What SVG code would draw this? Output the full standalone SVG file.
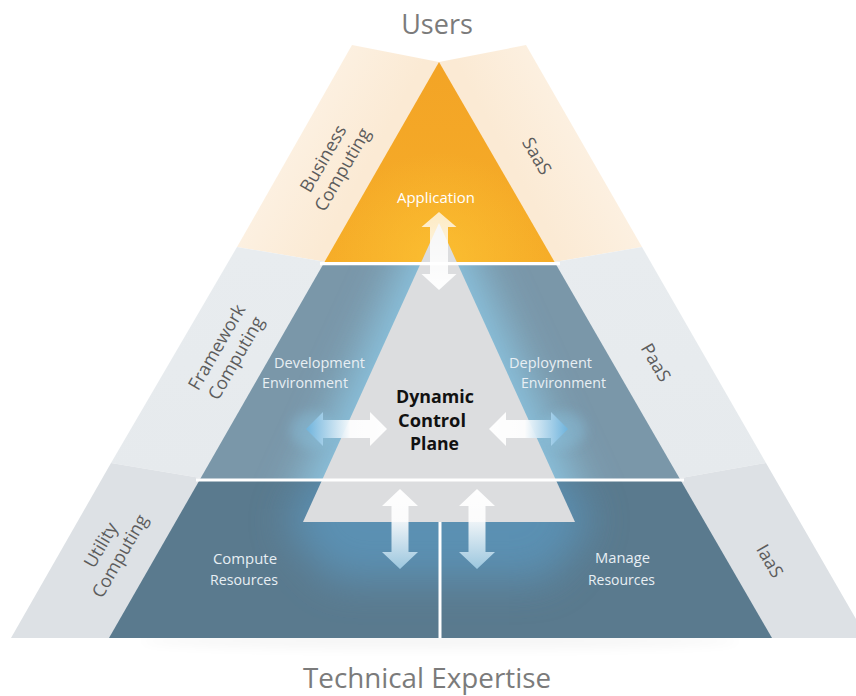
<svg xmlns="http://www.w3.org/2000/svg" width="856" height="696" viewBox="0 0 856 696">
<style>
.sans{font-family:"Open Sans","Noto Sans","Liberation Sans",sans-serif}
.title{font-size:27px;fill:#7b7b7b}
.side{font-size:18px;fill:#5c5c5c}
.inner{font-size:14.5px;fill:#e8eff4}
.bold{font-size:18px;font-weight:bold;fill:#111}
.sep{stroke:#ffffff;fill:none}
</style>
<defs>
<linearGradient id="gOrange" x1="0" y1="62" x2="0" y2="264" gradientUnits="userSpaceOnUse">
<stop offset="0" stop-color="#f3a426"/>
<stop offset="1" stop-color="#f6ad28"/>
</linearGradient>
<radialGradient id="gOrangeHi" cx="439" cy="262" r="110" gradientUnits="userSpaceOnUse">
<stop offset="0" stop-color="#fcc233" stop-opacity="0.8"/>
<stop offset="1" stop-color="#fcc233" stop-opacity="0"/>
</radialGradient>
<linearGradient id="gBeigeL" x1="250" y1="120" x2="360" y2="180" gradientUnits="userSpaceOnUse">
<stop offset="0" stop-color="#fdf4e9"/>
<stop offset="1" stop-color="#fbead4"/>
</linearGradient>
<linearGradient id="gBeigeR" x1="630" y1="120" x2="520" y2="180" gradientUnits="userSpaceOnUse">
<stop offset="0" stop-color="#fdf4e9"/>
<stop offset="1" stop-color="#fbead4"/>
</linearGradient>
<linearGradient id="gGrayMid" x1="0" y1="250" x2="0" y2="478" gradientUnits="userSpaceOnUse">
<stop offset="0" stop-color="#e8ecef"/>
<stop offset="1" stop-color="#e6eaed"/>
</linearGradient>
<linearGradient id="gArrowTop" x1="0" y1="212" x2="0" y2="290" gradientUnits="userSpaceOnUse">
<stop offset="0" stop-color="#ffffff" stop-opacity="0.72"/>
<stop offset="0.6" stop-color="#ffffff" stop-opacity="0.85"/>
<stop offset="1" stop-color="#ffffff" stop-opacity="0.97"/>
</linearGradient>
<linearGradient id="gArrowL" x1="306" y1="0" x2="387" y2="0" gradientUnits="userSpaceOnUse">
<stop offset="0" stop-color="#6db3dd" stop-opacity="0.95"/>
<stop offset="0.55" stop-color="#ffffff" stop-opacity="0.92"/>
<stop offset="1" stop-color="#ffffff" stop-opacity="0.97"/>
</linearGradient>
<linearGradient id="gArrowR" x1="489" y1="0" x2="568" y2="0" gradientUnits="userSpaceOnUse">
<stop offset="0" stop-color="#ffffff" stop-opacity="0.97"/>
<stop offset="0.45" stop-color="#ffffff" stop-opacity="0.92"/>
<stop offset="1" stop-color="#6db3dd" stop-opacity="0.95"/>
</linearGradient>
<linearGradient id="gArrowB" x1="0" y1="489" x2="0" y2="569" gradientUnits="userSpaceOnUse">
<stop offset="0" stop-color="#ffffff" stop-opacity="0.97"/>
<stop offset="0.4" stop-color="#ffffff" stop-opacity="0.9"/>
<stop offset="1" stop-color="#a3cde4" stop-opacity="0.9"/>
</linearGradient>
<filter id="blur" filterUnits="userSpaceOnUse" x="0" y="0" width="856" height="696">
<feGaussianBlur stdDeviation="20"/>
</filter>
<filter id="blurS" filterUnits="userSpaceOnUse" x="0" y="0" width="856" height="696">
<feGaussianBlur stdDeviation="6"/>
</filter>
<clipPath id="clipMid"><polygon points="323.5,263.7 555.6,263.7 680.5,480 199.6,480"/></clipPath>
<clipPath id="clipBot"><polygon points="199.6,480 680.5,480 772,638 109,638"/></clipPath>
</defs>

<ellipse cx="440" cy="641" rx="300" ry="8" fill="#000" opacity="0.035" filter="url(#blurS)"/>

<g id="band-business"><polygon points="352,45 439,62 439,281 237,247" fill="url(#gBeigeL)"/></g>
<g id="band-saas"><polygon points="526,45 439,62 439,282 642,247" fill="url(#gBeigeR)"/></g>
<g id="band-framework"><polygon points="237,247 439,281 439,518 111,463" fill="url(#gGrayMid)"/></g>
<g id="band-paas"><polygon points="642,247 439,282 439,521 766,463" fill="url(#gGrayMid)"/></g>
<g id="band-utility"><polygon points="111,463 439,518 439,638 11,638" fill="#dde1e5"/></g>
<g id="band-iaas"><polygon points="766,463 439,521 439,638 867,638" fill="#dde1e5"/></g>

<g id="application">
<polygon points="439,62 323.5,263.7 555.6,263.7" fill="url(#gOrange)"/>
<polygon points="439,62 323.5,263.7 555.6,263.7" fill="url(#gOrangeHi)"/>
</g>

<g id="paas-layer">
<polygon points="323.5,263.7 555.6,263.7 680.5,480 199.6,480" fill="#7a97a9"/>
<g clip-path="url(#clipMid)">
<polygon points="439,223 303,522 575,522" fill="#8cc6e2" stroke="#8cc6e2" stroke-width="36" stroke-linejoin="round" filter="url(#blur)" opacity="0.9"/>
<ellipse cx="312" cy="430" rx="22" ry="18" fill="#8ccbea" filter="url(#blurS)" opacity="0.35"/>
<ellipse cx="564" cy="430" rx="22" ry="18" fill="#8ccbea" filter="url(#blurS)" opacity="0.35"/>
</g>
</g>

<g id="iaas-layer">
<polygon points="199.6,480 680.5,480 772,638 109,638" fill="#5a7a8e"/>
<g clip-path="url(#clipBot)">
<polygon points="330,480 550,480 575,522 540,565 340,565 303,522" fill="#5b9ac2" stroke="#5b9ac2" stroke-width="30" stroke-linejoin="round" filter="url(#blur)" opacity="0.7"/>
</g>
</g>

<g id="dynamic-control-plane">
<polygon points="439,223 303,522 575,522" fill="#dcdddf"/>
</g>

<g id="separators">
<line class="sep" x1="320" y1="263.7" x2="560" y2="263.7" stroke-width="3.2"/>
<line class="sep" x1="196" y1="480" x2="684" y2="480" stroke-width="3"/>
<line class="sep" x1="440" y1="522" x2="440" y2="638" stroke-width="3"/>
</g>

<g id="connectors">
<path d="M439,212 L456.5,227 L448,227 L448,274 L456.5,274 L439,290 L421.5,274 L430,274 L430,227 L421.5,227 Z" fill="url(#gArrowTop)"/>
<path d="M306,429 L323,412 L323,420 L370,420 L370,412 L387,429 L370,446 L370,438 L323,438 L323,446 Z" fill="url(#gArrowL)"/>
<path d="M489,429 L506,412 L506,420 L551,420 L551,412 L568,429 L551,446 L551,438 L506,438 L506,446 Z" fill="url(#gArrowR)"/>
<path d="M400,489 L418,506 L408.5,506 L408.5,552 L418,552 L400,569 L382,552 L391.5,552 L391.5,506 L382,506 Z" fill="url(#gArrowB)"/>
<path d="M477,489 L495,506 L485.5,506 L485.5,552 L495,552 L477,569 L459,552 L468.5,552 L468.5,506 L459,506 Z" fill="url(#gArrowB)"/>
</g>

<g id="label-users"><text class="sans title" x="437" y="34" text-anchor="middle">Users</text></g>
<g id="label-expertise"><text class="sans title" x="427" y="688" text-anchor="middle" textLength="248" lengthAdjust="spacingAndGlyphs">Technical Expertise</text></g>

<g id="label-business" transform="translate(332.5,164) rotate(-60)">
<text class="sans side" x="0" y="-4.5" text-anchor="middle">Business</text>
<text class="sans side" x="0" y="17.5" text-anchor="middle">Computing</text>
</g>
<g id="label-saas" transform="translate(537,156) rotate(60)">
<text class="sans side" x="0" y="6.3" text-anchor="middle">SaaS</text>
</g>
<g id="label-framework" transform="translate(226,352.5) rotate(-60)">
<text class="sans side" x="0" y="-4.5" text-anchor="middle">Framework</text>
<text class="sans side" x="0" y="17.5" text-anchor="middle">Computing</text>
</g>
<g id="label-paas" transform="translate(656,362.5) rotate(60)">
<text class="sans side" x="0" y="6.3" text-anchor="middle">PaaS</text>
</g>
<g id="label-utility" transform="translate(110,550.5) rotate(-60)">
<text class="sans side" x="0" y="-4.5" text-anchor="middle">Utility</text>
<text class="sans side" x="0" y="17.5" text-anchor="middle">Computing</text>
</g>
<g id="label-iaas" transform="translate(770,561) rotate(60)">
<text class="sans side" x="0" y="6.3" text-anchor="middle">IaaS</text>
</g>

<g id="label-application"><text class="sans inner" x="436" y="203" text-anchor="middle" style="fill:#ffffff" textLength="78" lengthAdjust="spacingAndGlyphs">Application</text></g>
<g id="label-development">
<text class="sans inner" x="274" y="368" textLength="91" lengthAdjust="spacingAndGlyphs">Development</text>
<text class="sans inner" x="262" y="388" textLength="86" lengthAdjust="spacingAndGlyphs">Environment</text>
</g>
<g id="label-deployment">
<text class="sans inner" x="509" y="368" textLength="83" lengthAdjust="spacingAndGlyphs">Deployment</text>
<text class="sans inner" x="521" y="388" textLength="85" lengthAdjust="spacingAndGlyphs">Environment</text>
</g>
<g id="label-dcp">
<text class="sans bold" x="435" y="403" text-anchor="middle" textLength="78" lengthAdjust="spacingAndGlyphs">Dynamic</text>
<text class="sans bold" x="432" y="427" text-anchor="middle" textLength="68" lengthAdjust="spacingAndGlyphs">Control</text>
<text class="sans bold" x="434.5" y="450" text-anchor="middle" textLength="49" lengthAdjust="spacingAndGlyphs">Plane</text>
</g>
<g id="label-compute">
<text class="sans inner" x="245" y="564" text-anchor="middle" textLength="64" lengthAdjust="spacingAndGlyphs">Compute</text>
<text class="sans inner" x="244" y="585" text-anchor="middle" textLength="68" lengthAdjust="spacingAndGlyphs">Resources</text>
</g>
<g id="label-manage">
<text class="sans inner" x="622.5" y="563" text-anchor="middle" textLength="55" lengthAdjust="spacingAndGlyphs">Manage</text>
<text class="sans inner" x="621.5" y="585" text-anchor="middle" textLength="67" lengthAdjust="spacingAndGlyphs">Resources</text>
</g>
</svg>
